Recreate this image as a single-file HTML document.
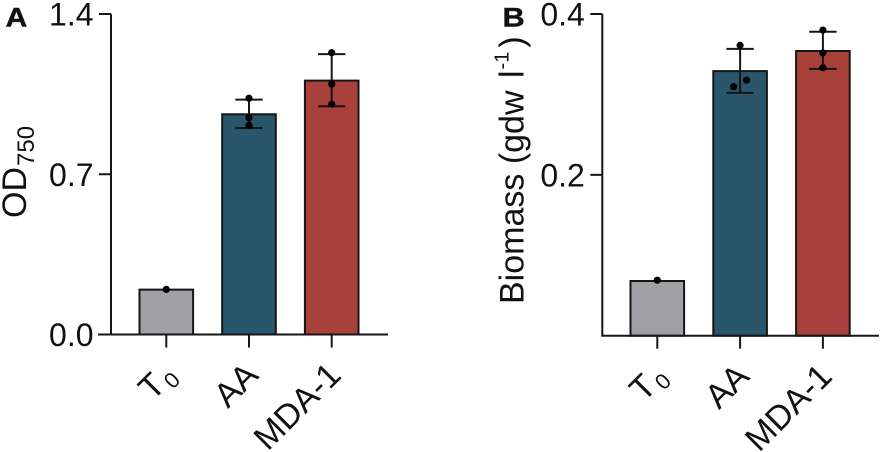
<!DOCTYPE html>
<html lang="en">
<head>
<meta charset="utf-8">
<title>OD750 and biomass bar charts</title>
<style>
  html, body { margin: 0; padding: 0; background: #fff; }
  svg { display: block; font-family: "Liberation Sans", Arial, sans-serif; }
</style>
</head>
<body>
<svg id="chart" xmlns="http://www.w3.org/2000/svg" width="880" height="452" viewBox="0 0 880 452">
  <rect width="880" height="452" fill="#fff"/>
  <text transform="translate(5.5,26.7) scale(1.12,1)" font-size="27" font-weight="bold" fill="#111" stroke="#111" stroke-width="0.4">A</text>
  <text transform="translate(502.5,26.7) scale(1.14,1)" font-size="27" font-weight="bold" fill="#111" stroke="#111" stroke-width="0.4">B</text>
  <text transform="translate(26,218) rotate(-90)" font-size="34" fill="#111">OD<tspan dy="8" font-size="24" dx="1">750</tspan></text>
  <text transform="translate(523.5,304) rotate(-90)" font-size="34" fill="#111">Biomass (gdw <tspan dx="3">l</tspan><tspan dy="-15" font-size="20" dx="1">-1</tspan><tspan dy="15" dx="4">)</tspan></text>
</svg>
<script>
const categoryNames = ['T', 'AA', 'MDA-1'];
const categorySubscripts = ['0', '', ''];
const barColors = ['#a1a0a5', '#2a566b', '#a8403c'];

const odTickLabels = ['0.0', '0.7', '1.4'];
const odTickValues = [0, 0.7, 1.4];
const odMeans = [0.196, 0.962, 1.109];
const odErrLow = [null, 0.902, 0.997];
const odErrHigh = [null, 1.026, 1.225];
const odPointsT0 = [0.197];
const odPointsAA = [1.032, 0.947, 0.914];
const odPointsMDA = [1.231, 1.094, 1.006];

const bioTickLabels = ['', '0.2', '0.4'];
const bioTickValues = [0, 0.2, 0.4];
const bioMeans = [0.068, 0.329, 0.354];
const bioErrLow = [null, 0.302, 0.3317];
const bioErrHigh = [null, 0.3566, 0.378];
const bioPointsT0 = [0.069];
const bioPointsAA = [0.361, 0.3177, 0.3097];
const bioPointsMDA = [0.380, 0.3516, 0.3333];

const svg = document.getElementById('chart');
const INK = '#161616';

function make(tag, attrs, parent) {
  const el = document.createElementNS('http://www.w3.org/2000/svg', tag);
  for (const k in attrs) el.setAttribute(k, attrs[k]);
  parent.appendChild(el);
  return el;
}

function hLine(x1, x2, y, parent) {
  return make('line', { x1: x1, x2: x2, y1: y, y2: y, stroke: INK, 'stroke-width': 2 }, parent);
}

function vLine(x, y1, y2, parent) {
  return make('line', { x1: x, x2: x, y1: y1, y2: y2, stroke: INK, 'stroke-width': 2 }, parent);
}

function drawPanel(p) {
  const yScale = v => p.y0 - (v / p.yMax) * (p.y0 - p.yTop);
  const xScale = i => p.firstCenter + i * p.step;

  const group = make('g', {}, svg);
  
  

  p.means.forEach((m, i) => {
    const cx = xScale(i);
    const bar = make('rect', {
      x: cx - p.barW / 2, y: yScale(m), width: p.barW, height: p.y0 - yScale(m),
      fill: barColors[i], stroke: INK, 'stroke-width': 2
    }, group);
    
    
  });

  const yAxis = vLine(p.axisX, p.yTop, p.y0, group);
  
  

  const xAxis = hLine(p.axisLeft, p.axisRight, p.y0, group);
  
  

  p.tickValues.forEach((v, i) => {
    if (p.tickLabels[i] || v > 0) {
      const tick = hLine(p.axisX - 12, p.axisX, yScale(v), group);
      
      
    }
    if (p.tickLabels[i]) {
      const label = make('text', {
        x: p.axisX - 17.5, y: yScale(v) + 11.5, 'text-anchor': 'end', 'font-size': 32, fill: '#111'
      }, group);
      label.textContent = p.tickLabels[i];
      
      
    }
  });

  p.means.forEach((m, i) => {
    const cx = xScale(i);
    const tick = vLine(cx, p.y0, p.y0 + 13, group);
    
    

    const label = make('text', {
      transform: 'translate(' + (cx + p.labelDx) + ',' + (p.y0 + p.labelDy) + ') rotate(-45)',
      'text-anchor': 'end', 'font-size': 34, fill: '#111'
    }, group);
    
    
    const main = make('tspan', {}, label);
    main.textContent = categoryNames[i];
    if (categorySubscripts[i]) {
      const sub = make('tspan', { dx: 2, dy: 6, 'font-size': 22 }, label);
      sub.textContent = categorySubscripts[i];
    }

    if (p.errLow[i] !== null) {
      const stem = vLine(cx, yScale(p.errHigh[i]), yScale(p.errLow[i]), group);
      
      
      const capHigh = hLine(cx - 13.7, cx + 13.7, yScale(p.errHigh[i]), group);
      
      
      const capLow = hLine(cx - 13.7, cx + 13.7, yScale(p.errLow[i]), group);
      
      
    }

    // Swarm rule: only points that would overlap are pushed apart sideways.
    p.points[i].forEach((v, j, arr) => {
      const prev = arr[j - 1], next = arr[j + 1];
      let offset = 0;
      if (next !== undefined && Math.abs(yScale(v) - yScale(next)) < 7) offset = 6.5;
      if (prev !== undefined && Math.abs(yScale(v) - yScale(prev)) < 7) offset = -6.5;
      const dot = make('circle', { cx: cx + offset, cy: yScale(v), r: 3.6, fill: '#000' }, group);
      
      
    });
  });
}

drawPanel({
  id: 'panel-a', y0: 334.5, yTop: 14, yMax: 1.4, axisX: 111, axisLeft: 98, axisRight: 388,
  firstCenter: 166.3, step: 82.7, barW: 53.6, labelDx: 11, labelDy: 42.5,
  means: odMeans, errLow: odErrLow, errHigh: odErrHigh,
  points: [odPointsT0, odPointsAA, odPointsMDA],
  tickValues: odTickValues, tickLabels: odTickLabels
});

drawPanel({
  id: 'panel-b', y0: 335.7, yTop: 14, yMax: 0.4, axisX: 602.3, axisLeft: 601.3, axisRight: 879,
  firstCenter: 657.3, step: 82.8, barW: 53.6, labelDx: 11, labelDy: 42.5,
  means: bioMeans, errLow: bioErrLow, errHigh: bioErrHigh,
  points: [bioPointsT0, bioPointsAA, bioPointsMDA],
  tickValues: bioTickValues, tickLabels: bioTickLabels
});
</script>
</body>
</html>
